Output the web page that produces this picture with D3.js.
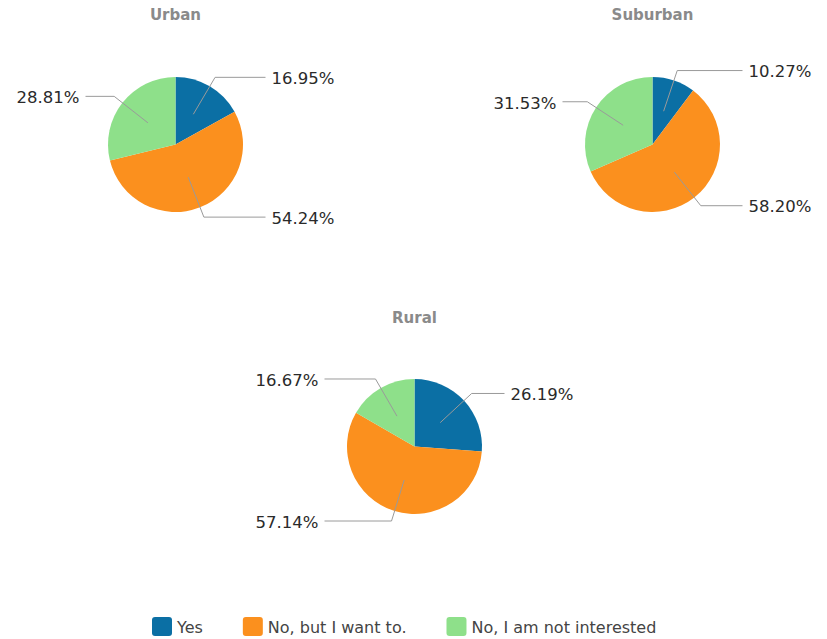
<!DOCTYPE html>
<html>
<head>
<meta charset="utf-8">
<script src="https://cdn.jsdelivr.net/npm/d3@7"></script>
<style>
  html, body { margin: 0; padding: 0; background: #ffffff; }
  svg { display: block; }
</style>
</head>
<body>
<svg id="chart" width="827" height="639"></svg>
<script>
// ---- data ----
const categories = ["Yes", "No, but I want to.", "No, I am not interested"];
const regions = ["Urban", "Suburban", "Rural"];
const urbanValues = [16.95, 54.24, 28.81];
const suburbanValues = [10.27, 58.20, 31.53];
const ruralValues = [26.19, 57.14, 16.67];
const seriesValues = [urbanValues, suburbanValues, ruralValues];
const colors = ["#0b6fa4", "#fb901e", "#8ee08a"];

// ---- layout ----
const W = 827, H = 639;
const radius = 67.5;
const centers = [
  { x: 175.5, y: 144.5, titleY: 20 },
  { x: 652.5, y: 144.5, titleY: 20 },
  { x: 414.5, y: 446.5, titleY: 323 }
];
const fontFamily = "'DejaVu Sans', Verdana, sans-serif";

const svg = d3.select("#chart");
const color = d3.scaleOrdinal().domain(categories).range(colors);

const pie = d3.pie().sort(null).value(d => d.value);
const arc = d3.arc().innerRadius(0).outerRadius(radius);
const innerArc = d3.arc().innerRadius(radius * 0.52).outerRadius(radius * 0.52);
const outerArc = d3.arc().innerRadius(radius * 1.155).outerRadius(radius * 1.155);
const lineReach = 90;

regions.forEach((name, i) => {
  const c = centers[i];
  const data = categories.map((cat, k) => ({ cat, value: seriesValues[i][k] }));
  const arcs = pie(data);

  svg.append("text")
    .attr("x", c.x).attr("y", c.titleY)
    .attr("text-anchor", "middle")
    .attr("font-family", fontFamily)
    .attr("font-weight", "bold")
    .attr("font-size", 15)
    .attr("fill", "#8a8a8a")
    .text(name);

  const g = svg.append("g").attr("transform", `translate(${c.x},${c.y})`);

  g.selectAll("path.slice")
    .data(arcs)
    .join("path")
    .attr("class", "slice")
    .attr("d", arc)
    .attr("fill", d => color(d.data.cat));

  arcs.forEach(d => {
    const mid = (d.startAngle + d.endAngle) / 2;
    const side = Math.sin(mid) >= 0 ? 1 : -1;
    const p0 = innerArc.centroid(d);
    const p1 = outerArc.centroid(d);
    const p2 = [side * lineReach, p1[1]];
    g.append("polyline")
      .attr("points", [p0, p1, p2].map(p => p.join(",")).join(" "))
      .attr("fill", "none")
      .attr("stroke", "#9a9a9a")
      .attr("stroke-width", 1);
    g.append("text")
      .attr("x", p2[0] + side * 6)
      .attr("y", p2[1] + 1)
      .attr("dy", "0.35em")
      .attr("text-anchor", side > 0 ? "start" : "end")
      .attr("font-family", fontFamily)
      .attr("font-size", 16.5)
      .attr("fill", "#2a2a2a")
      .text(d3.format(".2f")(d.data.value) + "%");
  });
});

// ---- legend ----
const legend = svg.append("g").attr("transform", "translate(152,617)");
let lx = 0;
categories.forEach(cat => {
  const item = legend.append("g").attr("transform", `translate(${lx},0)`);
  item.append("rect")
    .attr("width", 20).attr("height", 19)
    .attr("rx", 3).attr("ry", 3)
    .attr("fill", color(cat));
  const t = item.append("text")
    .attr("x", 25).attr("y", 16)
    .attr("font-family", fontFamily)
    .attr("font-size", 16)
    .attr("fill", "#444444")
    .text(cat);
  lx += 25 + t.node().getComputedTextLength() + 40;
});
</script>
</body>
</html>
